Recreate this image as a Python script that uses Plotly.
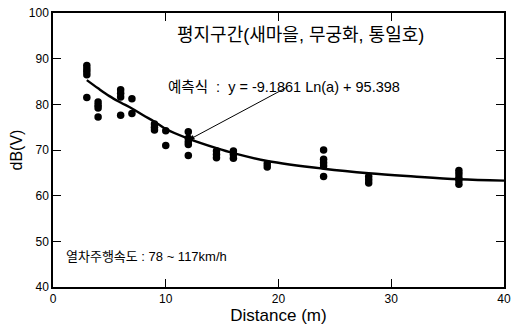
import plotly.graph_objects as go

# measured points (distance m, dB(V))
dist = [3, 3, 3, 3, 3,
        4, 4, 4, 4,
        6, 6, 6, 6,
        7, 7,
        9, 9, 9,
        10, 10,
        12, 12, 12, 12, 12,
        14.5, 14.5, 14.5,
        16, 16, 16,
        19, 19,
        24, 24, 24, 24, 24,
        28, 28, 28,
        36, 36, 36, 36, 36]
level = [88.5, 87.8, 87.2, 86.5, 81.5,
         80.5, 79.8, 79.2, 77.2,
         83.2, 82.4, 81.6, 77.6,
         81.2, 78.0,
         75.7, 75.0, 74.4,
         74.2, 71.0,
         74.0, 72.6, 71.8, 71.2, 68.8,
         69.8, 69.0, 68.3,
         69.8, 69.0, 68.2,
         67.0, 66.3,
         70.0, 68.0, 67.2, 66.5, 64.2,
         64.2, 63.5, 62.8,
         65.5, 64.8, 64.0, 63.3, 62.5]

# fitted curve
fit_x = [3, 4, 5, 6, 7, 8, 9, 10, 12, 14.5, 16, 19, 24, 28, 32, 36, 40]
fit_y = [85.3, 83.5, 81.8, 80.4, 79.1, 77.6, 76.2, 74.6, 72.5, 70.4, 69.3, 67.6, 65.9, 64.9, 64.2, 63.6, 63.3]

x_ticks = [0, 10, 20, 30, 40]
y_ticks = [40, 50, 60, 70, 80, 90, 100]

title_text = "평지구간(새마을, 무궁화, 통일호)"
eq_text = "예측식  :  y = -9.1861 Ln(a) + 95.398"
speed_text = "열차주행속도 : 78 ~ 117km/h"

fig = go.Figure()
fig.add_trace(go.Scatter(x=fit_x, y=fit_y, mode="lines",
                         line=dict(color="black", width=2.4, shape="spline"),
                         hoverinfo="skip", showlegend=False))
fig.add_trace(go.Scatter(x=dist, y=level, mode="markers",
                         marker=dict(color="black", size=7.5),
                         showlegend=False))

font_kr = "Liberation Sans, Noto Sans CJK KR, Arial, sans-serif"
fig.add_annotation(x=0.548, y=0.965, xref="paper", yref="paper", text=title_text,
                   showarrow=False, font=dict(family=font_kr, size=18, color="black"))
fig.add_annotation(x=0.512, y=0.766, xref="paper", yref="paper", text=eq_text,
                   showarrow=False, font=dict(family=font_kr, size=14.5, color="black"))
fig.add_annotation(x=12.1, y=72.3, ax=20.8, ay=83.8, xref="x", yref="y",
                   axref="x", ayref="y", text="", showarrow=True,
                   arrowhead=2, arrowsize=1, arrowwidth=1, arrowcolor="black")
fig.add_annotation(x=0.025, y=0.075, xref="paper", yref="paper", text=speed_text,
                   xanchor="left", showarrow=False,
                   font=dict(family=font_kr, size=13, color="black"))

axis_common = dict(showline=True, linecolor="black", linewidth=1.5, mirror="ticks",
                   ticks="inside", ticklen=8, tickwidth=1.2, tickcolor="black",
                   showgrid=False, zeroline=False, automargin=False,
                   tickfont=dict(family="Liberation Sans, Arial", size=12, color="black"))

fig.update_layout(
    width=516, height=334,
    margin=dict(l=53, r=12, t=13, b=47),
    plot_bgcolor="white", paper_bgcolor="white",
    xaxis=dict(range=[0, 40], tickvals=x_ticks,
               title=dict(text="Distance (m)", standoff=4,
                          font=dict(family="Liberation Sans, Arial", size=17, color="black")),
               **axis_common),
    yaxis=dict(range=[40, 100], tickvals=y_ticks,
               title=dict(text="dB(V)", standoff=2,
                          font=dict(family="Liberation Sans, Arial", size=16, color="black")),
               **axis_common),
)

# remove the default 8px page margin so the figure sits at the window's corner
fig.write_html("out.html", config={"displayModeBar": False},
               post_script="document.body.style.margin='0';document.body.style.overflow='hidden';")
